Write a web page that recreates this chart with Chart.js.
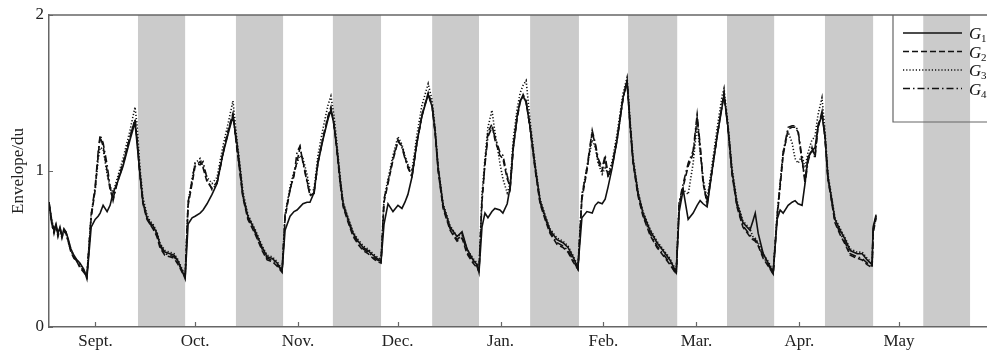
<!DOCTYPE html>
<html lang="en">
<head>
    <meta charset="UTF-8">
    <title>Envelope</title>
    <script src="https://cdn.jsdelivr.net/npm/chart.js"></script>
    <style>
        body { margin: 0; background: #fff; }
        canvas { display: block; }
    </style>
</head>
<body>
<canvas id="envChart" width="987" height="351"></canvas>

<script>
    // days counted from the left edge of the plot
    var days = [
        0,0.9,1.5,2.1,2.7,3.3,3.9,4.5,5.1,5.7,6.6,7.5,8.4,9.3,10.5,11.4,
        12.7,13.9,14.8,15.4,16.3,17.5,18.4,19.3,20.5,22.3,24.4,25.9,26.5,
        27.4,28.3,29.5,30.4,31.3,32.5,33.4,34.9,36.4,37.7,38.9,40.1,41.0,
        41.9,43.1,44.0,45.5,46.4,47.6,49.1,50.6,52.4,54.2,55.4,
        56.6,57.5,58.4,59.9,62.0,64.2,65.7,67.2,68.7,70.2,
        71.1,72.6,73.8,74.7,75.6,76.5,77.7,78.6,79.8,81.0,82.5,84.0,84.9,
        85.8,86.7,87.7,88.6,90.1,91.6,93.1,94.6,96.1,97.6,98.8,100.0,
        100.9,102.1,103.6,105.1,106.3,107.2,108.1,109.3,110.8,112.3,114.2,
        115.4,116.3,117.2,118.7,120.8,122.9,124.4,125.9,127.7,128.9,129.5,
        130.4,131.3,132.2,133.4,134.3,135.8,136.7,138.0,138.9,139.8,141.0,141.9,142.8,143.7,
        144.9,146.4,147.9,149.4,150.9,153.0,154.8,156.3,157.8,159.3,
        160.5,162.0,163.6,164.5,165.4,166.6,167.5,168.4,169.6,171.1,172.9,174.1,
        175.0,175.9,177.4,178.9,181.0,183.1,184.9,187.0,188.9,
        189.8,191.0,192.5,194.0,195.2,196.1,197.0,198.2,199.7,201.2,202.7,203.3,
        204.5,205.7,207.2,209.0,211.1,212.0,212.7,213.6,215.1,216.6,218.1,
        219.3,220.2,221.1,222.6,223.8,224.7,225.6,226.8,227.7,228.6,229.8,230.7,231.6,232.8,
        233.7,234.6,235.8,236.7,238.3,239.8,241.3,243.4,244.9,246.4,247.9,248.2,249.1
    ];

    var g1 = [
        0.80,0.67,0.62,0.66,0.60,0.64,0.58,0.63,0.61,0.57,0.50,0.46,0.43,0.41,0.37,0.31,
        0.64,0.69,0.71,0.73,0.78,0.74,0.78,0.86,0.92,1.03,1.20,1.31,1.18,
        0.98,0.80,0.70,0.67,0.65,0.60,0.53,0.48,0.47,0.46,0.42,0.36,0.31,
        0.66,0.70,0.71,0.73,0.75,0.79,0.85,0.92,1.11,1.26,1.35,
        1.18,1.02,0.84,0.71,0.62,0.51,0.45,0.44,0.41,0.36,
        0.62,0.71,0.74,0.75,0.77,0.79,0.80,0.80,0.86,1.05,1.20,1.33,1.39,
        1.30,1.15,0.94,0.79,0.69,0.60,0.55,0.51,0.49,0.46,0.44,0.42,
        0.66,0.79,0.74,0.78,0.76,0.80,0.85,0.96,1.18,1.35,1.49,
        1.41,1.25,1.02,0.78,0.64,0.58,0.61,0.50,0.43,0.40,0.35,
        0.64,0.73,0.70,0.74,0.76,0.75,0.73,0.79,0.90,1.15,1.35,1.45,1.48,1.44,
        1.28,1.03,0.81,0.71,0.62,0.56,0.54,0.51,0.45,0.38,
        0.70,0.74,0.73,0.78,0.80,0.79,0.82,0.90,1.02,1.20,1.47,1.58,
        1.30,1.07,0.86,0.73,0.62,0.54,0.49,0.43,0.35,
        0.74,0.88,0.69,0.73,0.78,0.81,0.79,0.77,1.00,1.22,1.41,1.49,
        1.28,1.00,0.79,0.67,0.62,0.68,0.73,0.60,0.47,0.41,0.35,
        0.69,0.75,0.73,0.78,0.80,0.81,0.79,0.78,0.92,1.09,1.13,1.15,1.28,1.36,
        1.22,0.96,0.81,0.69,0.62,0.56,0.49,0.47,0.47,0.43,0.40,0.64,0.72
    ];

    var g2 = [
        0.78,0.66,0.60,0.65,0.58,0.63,0.57,0.62,0.60,0.56,0.48,0.44,0.42,0.38,0.35,0.32,
        0.70,0.88,1.10,1.22,1.16,1.00,0.88,0.82,0.93,1.05,1.22,1.33,1.20,
        0.97,0.79,0.69,0.66,0.63,0.58,0.51,0.46,0.45,0.44,0.40,0.35,0.32,
        0.78,0.92,1.03,1.06,1.02,0.93,0.89,0.93,1.12,1.28,1.37,
        1.14,0.99,0.83,0.69,0.60,0.49,0.43,0.42,0.39,0.35,
        0.70,0.88,0.98,1.06,1.15,1.06,0.94,0.84,0.86,1.05,1.21,1.35,1.41,
        1.30,1.13,0.92,0.77,0.67,0.58,0.53,0.49,0.47,0.44,0.42,0.41,
        0.80,0.92,1.07,1.19,1.16,1.09,1.02,0.97,1.18,1.36,1.50,
        1.41,1.24,1.00,0.76,0.62,0.55,0.57,0.47,0.41,0.38,0.36,
        0.80,1.05,1.25,1.30,1.20,1.10,1.08,0.95,0.90,1.14,1.34,1.44,1.49,1.45,
        1.27,1.01,0.79,0.69,0.60,0.53,0.51,0.48,0.42,0.37,
        0.82,1.00,1.25,1.17,1.06,1.00,1.08,0.96,1.04,1.21,1.47,1.57,
        1.30,1.05,0.84,0.71,0.59,0.51,0.46,0.40,0.34,
        0.78,0.90,1.03,1.11,1.34,1.15,0.92,0.80,1.00,1.22,1.42,1.50,
        1.27,0.98,0.77,0.64,0.58,0.56,0.55,0.52,0.44,0.39,0.34,
        0.70,0.90,1.10,1.27,1.28,1.28,1.25,1.06,0.95,1.08,1.14,1.10,1.28,1.38,
        1.22,0.95,0.79,0.67,0.59,0.53,0.46,0.44,0.43,0.40,0.38,0.60,0.70
    ];

    var g3 = [
        0.79,0.68,0.63,0.64,0.61,0.62,0.59,0.61,0.60,0.56,0.50,0.45,0.43,0.40,0.36,0.33,
        0.72,0.88,1.07,1.15,1.14,0.98,0.90,0.86,0.95,1.08,1.26,1.41,1.30,
        1.02,0.83,0.72,0.68,0.66,0.61,0.54,0.49,0.48,0.47,0.43,0.37,0.33,
        0.80,0.95,1.05,1.08,1.03,0.96,0.92,0.96,1.16,1.33,1.45,
        1.20,1.04,0.87,0.72,0.63,0.52,0.46,0.45,0.42,0.37,
        0.72,0.90,1.00,1.05,1.10,1.08,0.98,0.88,0.88,1.10,1.27,1.42,1.48,
        1.36,1.18,0.96,0.80,0.70,0.61,0.56,0.52,0.50,0.47,0.45,0.43,
        0.82,0.95,1.10,1.22,1.17,1.10,1.04,1.00,1.23,1.42,1.56,
        1.45,1.27,1.03,0.79,0.65,0.58,0.60,0.50,0.44,0.41,0.37,
        0.85,1.08,1.28,1.39,1.25,1.05,0.95,0.86,0.92,1.20,1.40,1.50,1.55,1.58,
        1.32,1.05,0.82,0.72,0.63,0.57,0.55,0.52,0.46,0.39,
        0.85,1.02,1.20,1.15,1.05,0.98,1.02,0.98,1.06,1.24,1.50,1.60,
        1.33,1.09,0.87,0.74,0.63,0.55,0.50,0.44,0.36,
        0.80,0.88,0.85,1.05,1.30,1.12,0.95,0.82,1.04,1.27,1.48,1.53,
        1.30,1.02,0.81,0.68,0.63,0.58,0.57,0.54,0.47,0.42,0.36,
        0.72,0.92,1.12,1.25,1.18,1.08,1.05,1.10,1.02,1.12,1.20,1.22,1.36,1.47,
        1.26,0.98,0.82,0.70,0.63,0.57,0.50,0.48,0.48,0.44,0.41,0.62,0.71
    ];

    var g4 = [
        0.80,0.65,0.61,0.66,0.59,0.64,0.58,0.62,0.61,0.55,0.49,0.45,0.42,0.39,0.36,0.32,
        0.72,0.90,1.12,1.23,1.18,1.04,0.90,0.81,0.92,1.04,1.22,1.33,1.21,
        0.98,0.80,0.70,0.66,0.64,0.59,0.52,0.47,0.46,0.45,0.41,0.36,0.32,
        0.80,0.94,1.05,1.04,1.06,0.95,0.88,0.92,1.11,1.27,1.36,
        1.15,1.00,0.84,0.70,0.61,0.50,0.44,0.43,0.40,0.36,
        0.72,0.88,0.97,1.12,1.16,1.05,0.93,0.85,0.85,1.06,1.21,1.34,1.40,
        1.30,1.14,0.93,0.78,0.68,0.59,0.54,0.50,0.48,0.45,0.43,0.42,
        0.82,0.93,1.08,1.20,1.15,1.08,1.03,0.96,1.18,1.35,1.50,
        1.42,1.25,1.01,0.77,0.63,0.56,0.59,0.48,0.42,0.39,0.35,
        0.82,1.04,1.22,1.28,1.22,1.12,1.10,0.97,0.89,1.15,1.35,1.45,1.48,1.44,
        1.28,1.02,0.80,0.70,0.61,0.54,0.52,0.49,0.43,0.37,
        0.84,1.02,1.26,1.18,1.08,1.02,1.10,0.97,1.03,1.20,1.47,1.57,
        1.29,1.06,0.85,0.72,0.60,0.52,0.47,0.41,0.34,
        0.80,0.92,1.05,1.13,1.36,1.17,0.94,0.78,1.01,1.22,1.42,1.49,
        1.27,0.99,0.78,0.65,0.59,0.57,0.56,0.53,0.45,0.40,0.34,
        0.72,0.92,1.12,1.28,1.29,1.29,1.26,1.08,0.92,1.06,1.15,1.08,1.29,1.37,
        1.22,0.95,0.80,0.68,0.60,0.54,0.47,0.45,0.44,0.41,0.39,0.62,0.71
    ];

    var monthDays = [14, 44, 75, 105, 136, 167, 195, 226, 256];
    var monthLabels = ["Sept.", "Oct.", "Nov.", "Dec.", "Jan.", "Feb.", "Mar.", "Apr.", "May"];

    // shaded periods (days)
    var bandStart = [26.8, 56.3, 85.5, 115.4, 144.9, 174.4, 204.2, 233.7, 263.3];
    var bandEnd   = [41.0, 70.5, 100.0, 129.5, 159.6, 189.2, 218.4, 248.2, 277.4];

    var seriesNames = ["1", "2", "3", "4"];

    var serif = "'Liberation Serif', 'Times New Roman', serif";
    var axisColor = '#666';
    var inkColor = '#111';

    function pts(vals) {
        return days.map(function(d, i) { return { x: d, y: vals[i] }; });
    }

    var dashes = [[], [6, 3], [1.2, 2], [7, 3, 1.5, 3]];

    var datasets = [g1, g2, g3, g4].map(function(vals, i) {
        return {
            label: 'G' + seriesNames[i],
            data: pts(vals),
            borderColor: inkColor,
            borderWidth: 1.6,
            borderDash: dashes[i],
            pointRadius: 0,
            tension: 0,
            fill: false
        };
    });

    var decor = {
        id: 'decor',
        beforeDraw: function(chart) {
            var ctx = chart.ctx, a = chart.chartArea, x = chart.scales.x;
            ctx.save();
            ctx.fillStyle = '#cbcbcb';
            for (var i = 0; i < bandStart.length; i++) {
                var x0 = x.getPixelForValue(bandStart[i]);
                var x1 = x.getPixelForValue(bandEnd[i]);
                ctx.fillRect(x0, a.top, x1 - x0, a.bottom - a.top);
            }
            ctx.restore();
        },
        afterDraw: function(chart) {
            var ctx = chart.ctx, a = chart.chartArea, x = chart.scales.x, y = chart.scales.y;
            ctx.save();
            ctx.strokeStyle = axisColor;
            ctx.lineWidth = 1.5;
            // top frame line
            ctx.beginPath();
            ctx.moveTo(a.left, a.top);
            ctx.lineTo(a.right, a.top);
            ctx.stroke();
            // inward ticks
            ctx.lineWidth = 1.2;
            ctx.beginPath();
            x.ticks.forEach(function(t) {
                var px = Math.round(x.getPixelForValue(t.value)) + 0.5;
                ctx.moveTo(px, a.bottom);
                ctx.lineTo(px, a.bottom - 5);
            });
            y.ticks.forEach(function(t) {
                var py = Math.round(y.getPixelForValue(t.value)) + 0.5;
                ctx.moveTo(a.left, py);
                ctx.lineTo(a.left + 4, py);
            });
            ctx.stroke();

            // legend box
            var lx = a.left + 844, ly = a.top, lh = 107;
            ctx.lineWidth = 1.2;
            ctx.beginPath();
            ctx.moveTo(lx, ly);
            ctx.lineTo(lx, ly + lh);
            ctx.lineTo(chart.width, ly + lh);
            ctx.stroke();

            for (var i = 0; i < datasets.length; i++) {
                var ey = ly + 18 + i * 18.5;
                ctx.strokeStyle = inkColor;
                ctx.lineWidth = 1.5;
                ctx.setLineDash(dashes[i]);
                ctx.beginPath();
                ctx.moveTo(lx + 10, ey);
                ctx.lineTo(lx + 69, ey);
                ctx.stroke();
                ctx.setLineDash([]);
                ctx.fillStyle = inkColor;
                ctx.textBaseline = 'alphabetic';
                ctx.font = 'italic 17px ' + serif;
                ctx.fillText('G', lx + 76, ey + 6);
                ctx.font = '11px ' + serif;
                ctx.fillText(seriesNames[i], lx + 88, ey + 9);
            }
            ctx.restore();
        }
    };

    var ctx = document.getElementById('envChart').getContext('2d');
    var envChart = new Chart(ctx, {
        type: 'line',
        data: { datasets: datasets },
        options: {
            responsive: false,
            animation: false,
            layout: { padding: { top: 15, left: 0, right: 0, bottom: 0 } },
            plugins: {
                legend: { display: false },
                tooltip: { enabled: false }
            },
            scales: {
                x: {
                    type: 'linear',
                    min: 0,
                    max: 282.5,
                    afterBuildTicks: function(scale) {
                        scale.ticks = monthDays.map(function(v) { return { value: v }; });
                    },
                    afterFit: function(scale) { scale.height = 24; },
                    grid: { display: false },
                    border: { display: true, color: axisColor, width: 1.5 },
                    ticks: {
                        autoSkip: false,
                        maxRotation: 0,
                        padding: -4,
                        color: '#222',
                        font: { family: serif, size: 17 },
                        callback: function(v) {
                            var k = monthDays.indexOf(v);
                            return k >= 0 ? monthLabels[k] : '';
                        }
                    }
                },
                y: {
                    min: 0,
                    max: 2,
                    afterFit: function(scale) { scale.width = 49; },
                    grid: { display: false },
                    border: { display: true, color: axisColor, width: 1.5 },
                    ticks: {
                        stepSize: 1,
                        padding: -3,
                        color: '#222',
                        font: { family: serif, size: 17 }
                    },
                    title: {
                        display: true,
                        text: 'Envelope/du',
                        color: '#222',
                        font: { family: serif, size: 17 },
                        padding: { top: 8, bottom: 0 }
                    }
                }
            }
        },
        plugins: [decor]
    });
</script>

</body>
</html>
